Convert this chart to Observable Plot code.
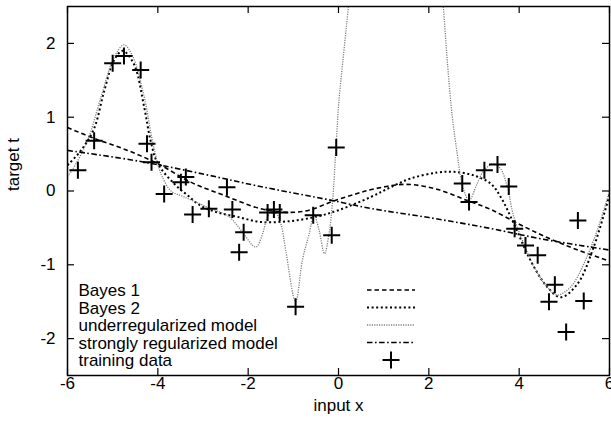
<!DOCTYPE html>
<html><head><meta charset="utf-8">
<script src="https://cdn.jsdelivr.net/npm/d3@7"></script>
<script src="https://cdn.jsdelivr.net/npm/@observablehq/plot@0.6"></script>
<style>
body{margin:0;background:#fff}
svg{font-family:"Liberation Sans",Arial,Helvetica,sans-serif}
</style>
</head><body><div id="chart"></div>
<script>
const xTicks = [-6, -4, -2, 0, 2, 4, 6];
const yTicks = [-2, -1, 0, 1, 2];
const xLabel = "input x";
const yLabel = "target t";
const seriesNames = ["Bayes 1", "Bayes 2", "underregularized model", "strongly regularized model", "training data"];

const trainingData = [
  [-5.77, 0.28], [-5.41, 0.68], [-5.00, 1.73], [-4.75, 1.83], [-4.38, 1.64],
  [-4.24, 0.64], [-4.14, 0.39], [-3.86, -0.04], [-3.38, 0.19], [-3.49, 0.12],
  [-3.23, -0.32], [-2.87, -0.24], [-2.47, 0.05], [-2.35, -0.25], [-2.10, -0.56],
  [-2.20, -0.83], [-1.57, -0.29], [-1.43, -0.25], [-1.30, -0.29], [-0.95, -1.57],
  [-0.56, -0.33], [-0.15, -0.60], [-0.05, 0.59], [2.74, 0.10], [2.89, -0.15],
  [3.23, 0.28], [3.52, 0.36], [3.77, 0.06], [3.90, -0.51], [4.14, -0.74],
  [4.41, -0.87], [4.79, -1.27], [4.66, -1.50], [5.30, -0.40], [5.43, -1.49],
  [5.04, -1.91]
];

const bayes1 = [
  [-6, 0.86], [-5.4, 0.71], [-4.67, 0.55], [-4.0, 0.37], [-3.27, 0.12], [-2.53, -0.06],
  [-1.72, -0.24], [-1.1, -0.29], [-0.65, -0.26], [-0.13, -0.14], [0.38, -0.04], [0.8, 0.03],
  [1.5, 0.09], [2.2, 0.02], [2.85, -0.13], [3.37, -0.25], [4.0, -0.45], [4.62, -0.63],
  [5.3, -0.8], [6, -0.95]
];

const bayes2 = [
  [-6, 0.35], [-5.7, 0.55], [-5.41, 0.85], [-5.19, 1.35], [-4.97, 1.77], [-4.78, 1.9],
  [-4.53, 1.72], [-4.3, 1.13], [-4.16, 0.68], [-4.0, 0.37], [-3.64, 0.1], [-3.34, -0.06],
  [-3.05, -0.2], [-2.68, -0.29], [-2.24, -0.35], [-1.72, -0.42], [-1.1, -0.41], [-0.5, -0.35],
  [0.0, -0.26], [0.72, -0.08], [1.15, 0.05], [1.6, 0.17], [2.19, 0.25], [2.56, 0.26],
  [3.0, 0.21], [3.37, 0.1], [3.59, -0.08], [3.88, -0.44], [4.25, -0.94], [4.62, -1.3],
  [4.92, -1.44], [5.29, -1.26], [5.65, -0.76], [6.0, -0.05]
];

const underregularized = [
  [-6, 0.2], [-5.9, 0.28], [-5.56, 0.68], [-5.26, 1.27], [-4.97, 1.81], [-4.75, 1.98],
  [-4.56, 1.83], [-4.3, 1.27], [-4.12, 0.68], [-3.97, 0.3], [-3.9, 0.19], [-3.71, 0.0],
  [-3.42, -0.08], [-2.9, -0.22], [-2.42, -0.35], [-2.16, -0.53], [-1.83, -0.76], [-1.68, -0.58],
  [-1.57, -0.35], [-1.43, -0.26], [-1.28, -0.44], [-1.17, -0.8], [-0.95, -1.5], [-0.8, -0.94],
  [-0.65, -0.58], [-0.54, -0.33], [-0.43, -0.53], [-0.31, -0.85], [-0.21, -0.58], [-0.13, -0.13],
  [-0.06, 0.55], [0.01, 1.22], [0.12, 1.9], [0.22, 2.5], [0.35, 3.3], [1.3, 6], [2.2, 3.3],
  [2.32, 2.5], [2.41, 1.75], [2.52, 1.0], [2.63, 0.5], [2.7, 0.2], [2.78, 0.0], [2.89, -0.13],
  [3.07, 0.1], [3.22, 0.28], [3.44, 0.37], [3.59, 0.3], [3.74, 0.05], [3.88, -0.35], [4.1, -0.71],
  [4.33, -1.03], [4.62, -1.3], [4.84, -1.41], [5.14, -1.3], [5.43, -0.99], [5.73, -0.53], [6.0, 0.0]
];

const stronglyRegularized = [
  [-6, 0.55], [-4.38, 0.4], [-3, 0.23], [-1.8, 0.07], [-0.13, -0.13], [0.75, -0.24],
  [2, -0.36], [3.3, -0.5], [4.5, -0.65], [6, -0.8]
];

// ---- styles / layout ----
const W = 611, H = 429, mL = 67, mR = 2, mT = 6, mB = 54;
const fw = W - mL - mR, fh = H - mT - mB;
const FONT = 17;
const styles = [
  {stroke: "#000", width: 1.6, dash: "4.5,3"},
  {stroke: "#000", width: 2, dash: "2,2.6"},
  {stroke: "#808080", width: 1.3, dash: "1.2,1.2"},
  {stroke: "#000", width: 1.6, dash: "5.5,2.5,1.6,2.5"}
];
const series = [bayes1, bayes2, underregularized, stronglyRegularized];

const plusSymbol = {
  draw(ctx, size) {
    const r = Math.sqrt(size / Math.PI);
    ctx.moveTo(-r, 0); ctx.lineTo(r, 0);
    ctx.moveTo(0, -r); ctx.lineTo(0, r);
  }
};

function legend(index, scales, values, dims) {
  const g = d3.create("svg:g").attr("font-size", FONT).attr("fill", "#000").attr("text-anchor", "start");
  const x0 = dims.marginLeft, yb = dims.height - dims.marginBottom;
  seriesNames.forEach((name, i) => {
    const cy = yb - 85 + i * 17.5;
    g.append("text").attr("x", x0 + 11.5).attr("y", cy).attr("dy", "0.36em").attr("text-anchor", "start").text(name);
    if (i < 4) {
      const s = styles[i];
      g.append("line").attr("x1", x0 + 300).attr("x2", x0 + 348).attr("y1", cy).attr("y2", cy)
        .attr("stroke", s.stroke).attr("stroke-width", s.width).attr("stroke-dasharray", s.dash);
    } else {
      const cx = x0 + 324, r = 8.5;
      g.append("path").attr("d", `M${cx - r},${cy}H${cx + r}M${cx},${cy - r}V${cy + r}`)
        .attr("stroke", "#000").attr("stroke-width", 2);
    }
  });
  return g.node();
}

const chart = Plot.plot({
  width: W, height: H,
  marginLeft: mL, marginRight: mR, marginTop: mT, marginBottom: mB,
  style: {fontFamily: '"Liberation Sans", Arial, sans-serif', fontSize: FONT + "px", background: "#fff", overflow: "visible"},
  x: {domain: [-6, 6], axis: null},
  y: {domain: [-2.5, 2.5], axis: null},
  marks: [
    ...series.map((d, i) => Plot.line(d, {
      x: p => p[0], y: p => p[1], curve: "catmull-rom", clip: true,
      stroke: styles[i].stroke, strokeWidth: styles[i].width, strokeDasharray: styles[i].dash,
      strokeLinecap: "butt"
    })),
    Plot.dot(trainingData, {x: p => p[0], y: p => p[1], symbol: plusSymbol, r: 8.5, stroke: "#000", fill: "none", strokeWidth: 2}),
    Plot.tickX(xTicks, {x: d => d, insetBottom: fh - 7, stroke: "#000", strokeWidth: 1.2}),
    Plot.tickX(xTicks, {x: d => d, insetTop: fh - 7, stroke: "#000", strokeWidth: 1.2}),
    Plot.tickY(yTicks, {y: d => d, insetRight: fw - 7, stroke: "#000", strokeWidth: 1.2}),
    Plot.tickY(yTicks, {y: d => d, insetLeft: fw - 7, stroke: "#000", strokeWidth: 1.2}),
    Plot.frame({stroke: "#000", strokeWidth: 1.5}),
    Plot.text(xTicks, {x: d => d, text: d => String(d), frameAnchor: "bottom", dy: 13, fontSize: FONT, fill: "#000"}),
    Plot.text(yTicks, {y: d => d, text: d => String(d), frameAnchor: "left", dx: -12, textAnchor: "end", fontSize: FONT, fill: "#000"}),
    Plot.text([xLabel], {frameAnchor: "bottom", dy: 35, fontSize: FONT, fill: "#000"}),
    Plot.text([yLabel], {frameAnchor: "left", dx: -54, rotate: -90, fontSize: FONT, fill: "#000"}),
    legend
  ]
});
document.getElementById("chart").appendChild(chart);
</script>
</body></html>
